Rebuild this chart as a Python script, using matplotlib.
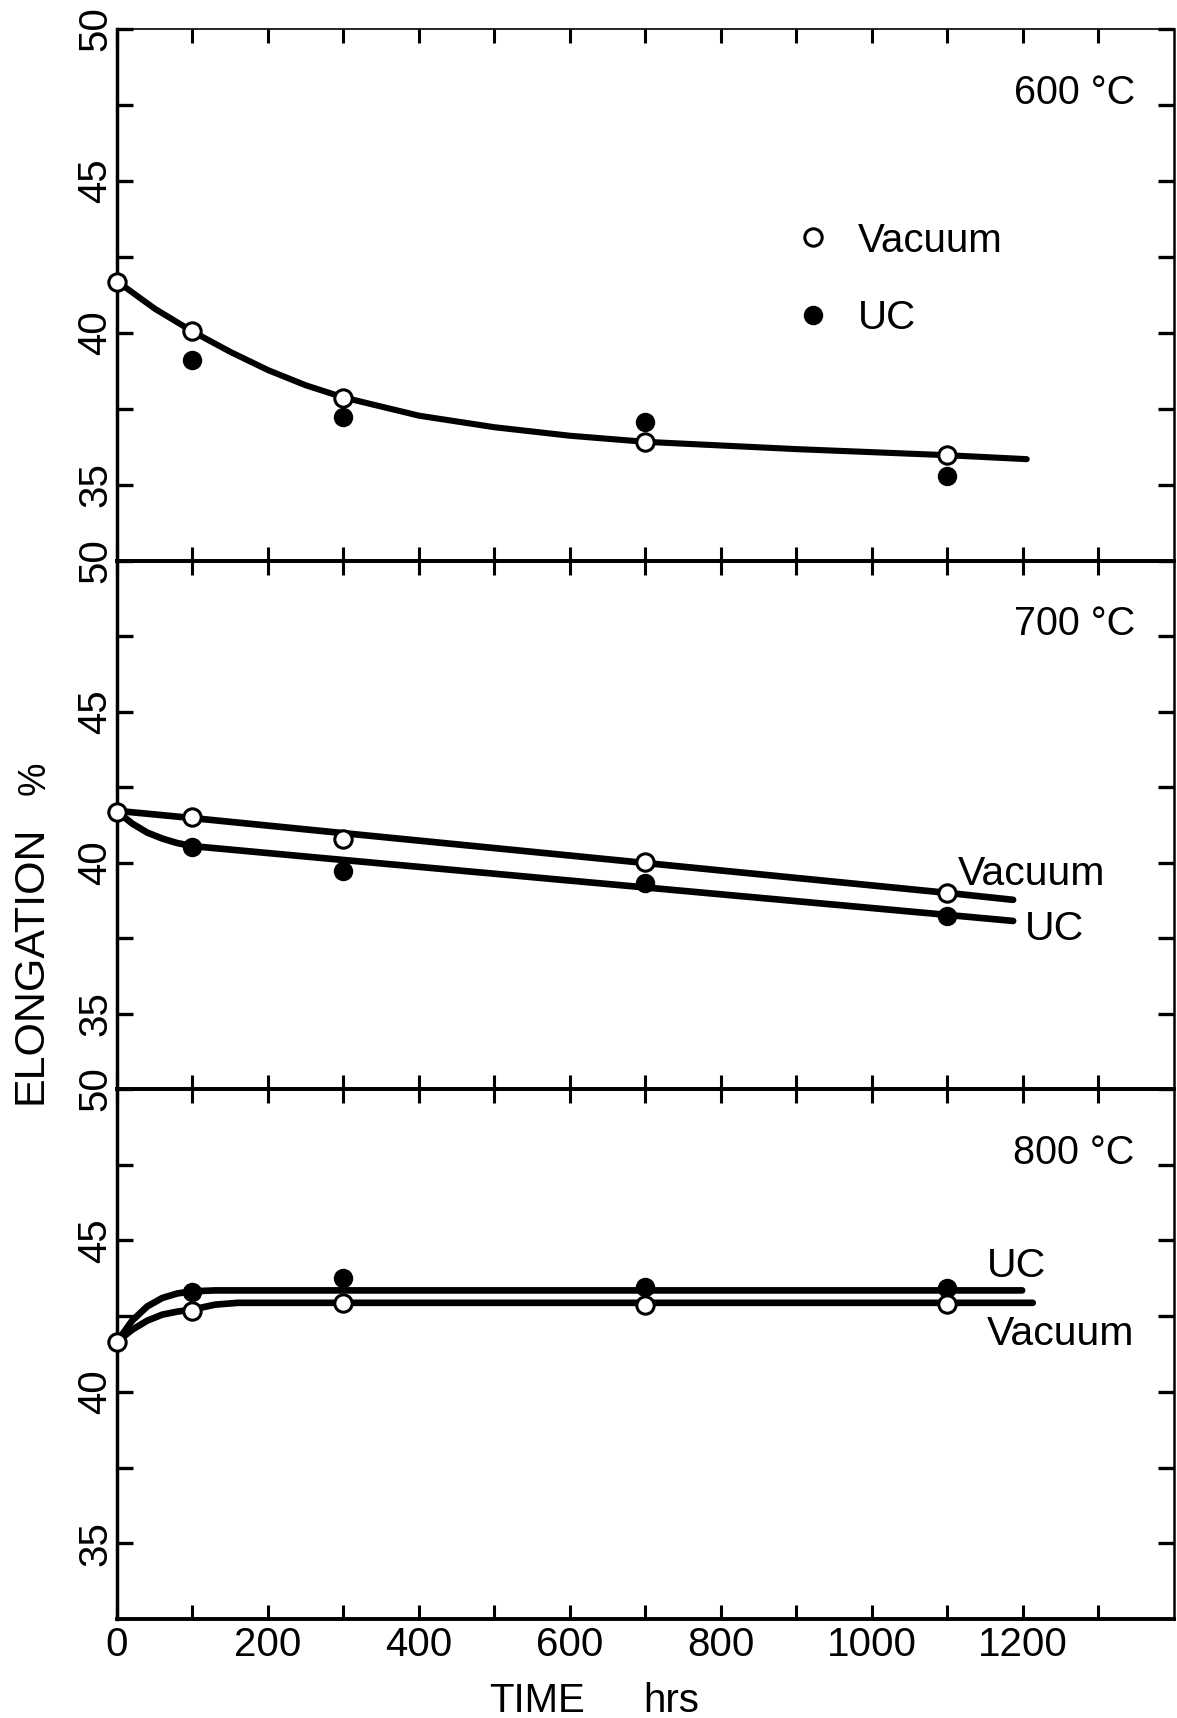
import matplotlib
matplotlib.use("Agg")
import matplotlib.pyplot as plt
from matplotlib.ticker import FixedLocator, NullFormatter

# ---------------- data ----------------
times = [0, 100, 300, 700, 1100]

# 600 C panel
vac_600 = [41.68, 40.05, 37.87, 36.40, 36.00]
uc_600_t = [100, 300, 700, 1100]
uc_600 = [39.10, 37.23, 37.08, 35.28]
fit_600_t = [0, 50, 100, 150, 200, 250, 300, 400, 500, 600, 700, 800, 900, 1000, 1100, 1205]
fit_600 = [41.70, 40.80, 40.05, 39.38, 38.78, 38.28, 37.88, 37.28, 36.90, 36.62, 36.42,
           36.30, 36.18, 36.08, 35.98, 35.85]

# 700 C panel
vac_700 = [41.68, 41.53, 40.80, 40.03, 39.00]
uc_700_t = [100, 300, 700, 1100]
uc_700 = [40.53, 39.72, 39.33, 38.25]
fit_700_vac_t = [0, 100, 300, 700, 1100, 1187]
fit_700_vac = [41.72, 41.48, 40.98, 39.99, 39.00, 38.77]
fit_700_uc_t = [0, 20, 40, 60, 80, 100, 300, 700, 1100, 1187]
fit_700_uc = [41.70, 41.30, 41.00, 40.80, 40.65, 40.55, 40.09, 39.18, 38.27, 38.07]

# 800 C panel
vac_800 = [41.65, 42.67, 42.95, 42.88, 42.90]
uc_800_t = [100, 300, 700, 1100]
uc_800 = [43.30, 43.75, 43.47, 43.43]
fit_800_uc_t = [0, 20, 40, 60, 80, 100, 130, 1199]
fit_800_uc = [41.65, 42.35, 42.82, 43.10, 43.25, 43.32, 43.35, 43.35]
fit_800_vac_t = [0, 20, 40, 60, 80, 100, 130, 160, 1213]
fit_800_vac = [41.65, 42.05, 42.35, 42.55, 42.65, 42.72, 42.88, 42.94, 42.94]

panel_labels = ["600 °C", "700 °C", "800 °C"]
legend_labels = ["Vacuum", "UC"]
x_major = [0, 200, 400, 600, 800, 1000, 1200]
x_minor = [100, 300, 500, 700, 900, 1100, 1300]
y_major = [35, 40, 45, 50]
y_minor = [37.5, 42.5, 47.5]

# ---------------- styling ----------------
NARROW = ["Liberation Sans Narrow", "Liberation Sans", "DejaVu Sans"]
REG = ["Liberation Sans", "DejaVu Sans"]
LW = 4.8
MS_OPEN = 12.5
MEW = 2.2
MS_FILL = 14.0

fig = plt.figure(figsize=(11.77, 17.18), dpi=100)
left, width = 0.0994, 0.898
rects = [
    [left, 0.67346, width, 0.30966],
    [left, 0.36612, width, 0.30734],
    [left, 0.05763, width, 0.30849],
]
axes = [fig.add_axes(r) for r in rects]


def style(ax, bottom_labels):
    ax.set_xlim(0, 1400)
    ax.set_ylim(32.5, 50)
    ax.xaxis.set_major_locator(FixedLocator(x_major))
    ax.xaxis.set_minor_locator(FixedLocator(x_minor))
    ax.yaxis.set_major_locator(FixedLocator(y_major))
    ax.yaxis.set_minor_locator(FixedLocator(y_minor))
    ax.xaxis.set_minor_formatter(NullFormatter())
    ax.yaxis.set_minor_formatter(NullFormatter())
    ax.tick_params(axis="x", which="both", direction="in", top=True, bottom=True,
                   length=10, width=2.2, labelbottom=bottom_labels, pad=5,
                   labelsize=29, color="black")
    ax.tick_params(axis="y", which="both", direction="in", left=True, right=True,
                   length=11.5, width=2.4, pad=2, labelsize=29, color="black")
    for lab in ax.get_yticklabels():
        lab.set_rotation(90)
        lab.set_va("center")
        lab.set_family(NARROW)
    for lab in ax.get_xticklabels():
        lab.set_family(NARROW)
    ax.spines["left"].set_linewidth(2.5)
    ax.spines["bottom"].set_linewidth(2.8)
    ax.spines["right"].set_linewidth(1.8)
    ax.spines["top"].set_linewidth(2.8)
    ax.set_facecolor("none")


for i, ax in enumerate(axes):
    style(ax, i == 2)
axes[0].spines["top"].set_linewidth(1.2)

open_kw = dict(linestyle="none", marker="o", ms=MS_OPEN, mfc="white", mec="black",
               mew=MEW, zorder=4, clip_on=False)
fill_kw = dict(linestyle="none", marker="o", ms=MS_FILL, mfc="black", mec="black",
               mew=0, zorder=4, clip_on=False)
line_kw = dict(color="black", lw=LW, solid_capstyle="round", zorder=2, clip_on=False)

# 600
ax = axes[0]
ax.plot(fit_600_t, fit_600, **dict(line_kw, lw=4.4))
h_vac, = ax.plot(times, vac_600, **open_kw)
h_uc, = ax.plot(uc_600_t, uc_600, **fill_kw)
leg = ax.legend([h_vac, h_uc], legend_labels, loc="upper left",
                bbox_to_anchor=(0.6395, 0.638), frameon=False, borderpad=0,
                borderaxespad=0, handlelength=1.0, handletextpad=0.62,
                labelspacing=0.98, numpoints=1,
                prop={"family": REG, "size": 29})

# 700
ax = axes[1]
ax.plot(fit_700_vac_t, fit_700_vac, **line_kw)
ax.plot(fit_700_uc_t, fit_700_uc, **line_kw)
ax.plot(times, vac_700, **open_kw)
ax.plot(uc_700_t, uc_700, **fill_kw)
ax.text(1114, 39.27, "Vacuum", family=REG, fontsize=29.5, ha="left", va="baseline")
ax.text(1203, 37.45, "UC", family=REG, fontsize=29.5, ha="left", va="baseline")

# 800
ax = axes[2]
ax.plot(fit_800_uc_t, fit_800_uc, **line_kw)
ax.plot(fit_800_vac_t, fit_800_vac, **line_kw)
ax.plot(uc_800_t, uc_800, **fill_kw)
ax.plot(times, vac_800, **open_kw)
ax.text(1152, 43.8, "UC", family=REG, fontsize=29.5, ha="left", va="baseline")
ax.text(1152, 41.55, "Vacuum", family=REG, fontsize=29.5, ha="left", va="baseline")

for ax, lab in zip(axes, panel_labels):
    ax.text(0.963, 0.88, lab, transform=ax.transAxes, ha="right", va="center",
            family=NARROW, fontsize=28.5)

# axis labels
fig.text(0.0255, 0.4386, "ELONGATION", rotation=90, ha="center", va="center",
         family=REG, fontsize=31)
fig.text(0.029, 0.547, "%", rotation=90, ha="center", va="center",
         family=REG, fontsize=27)
fig.text(0.4562, 0.0035, "TIME", ha="center", va="baseline", family=REG, fontsize=29)
fig.text(0.5701, 0.0035, "hrs", ha="center", va="baseline", family=REG, fontsize=29)

fig.savefig("out.png", dpi=100, facecolor="white")
